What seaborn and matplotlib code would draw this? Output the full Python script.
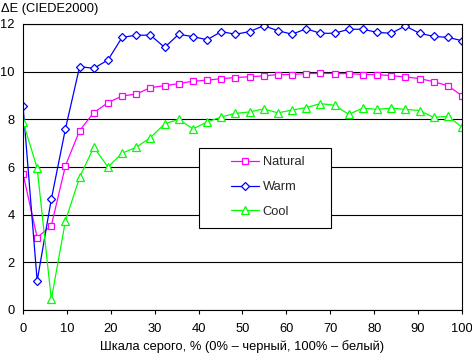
import numpy as np
import matplotlib
matplotlib.use("Agg")
import matplotlib.pyplot as plt
from matplotlib.patches import Rectangle
import pandas as pd
import seaborn as sns

# %% data
gray_pct = np.arange(32) * 100 / 31

natural = [5.72, 3.04, 3.54, 6.06, 7.53, 8.28, 8.70, 8.98, 9.06, 9.33,
           9.41, 9.50, 9.60, 9.64, 9.71, 9.75, 9.79, 9.82, 9.88, 9.88,
           9.92, 9.93, 9.92, 9.92, 9.88, 9.88, 9.83, 9.78, 9.71, 9.58,
           9.41, 8.99]
warm = [8.58, 1.22, 4.65, 7.61, 10.21, 10.14, 10.49, 11.44, 11.53, 11.53,
        11.02, 11.57, 11.47, 11.34, 11.68, 11.57, 11.68, 11.93, 11.72, 11.57,
        11.80, 11.61, 11.61, 11.78, 11.78, 11.65, 11.61, 11.92, 11.61, 11.48,
        11.44, 11.30]
cool = [7.90, 5.95, 0.45, 3.75, 5.57, 6.83, 6.00, 6.58, 6.83, 7.23,
        7.81, 8.00, 7.60, 7.89, 8.10, 8.25, 8.31, 8.44, 8.27, 8.39,
        8.49, 8.66, 8.59, 8.21, 8.47, 8.42, 8.47, 8.42, 8.37, 8.08,
        8.13, 7.67]

series_names = ["Natural", "Warm", "Cool"]
series_colors = ["#FF00FF", "#0000FF", "#00FF00"]
series_markers = ["s", "D", "^"]
series_msize = [5, 4.1, 5.4]

df = pd.DataFrame({"x": gray_pct, "Natural": natural, "Warm": warm, "Cool": cool})

# %% style
FS = 9.3
sns.set_theme(style="white")
plt.rcParams["font.family"] = ["Liberation Sans", "DejaVu Sans"]
plt.rcParams["font.size"] = FS

fig = plt.figure(figsize=(4.72, 3.53), dpi=100)
ax = fig.add_axes([23 / 472, 1 - 310 / 353, 439 / 472, 286 / 353])

handles = []
for name, color, mk, ms in zip(series_names, series_colors, series_markers, series_msize):
    sns.lineplot(data=df, x="x", y=name, ax=ax, color=color, linewidth=0.9,
                 marker=mk, markersize=ms, markerfacecolor="white",
                 markeredgecolor=color, markeredgewidth=0.9)
    handles.append(ax.get_lines()[-1])

ax.set_xlim(0, 100)
ax.set_ylim(0, 12)
ax.set_xticks(range(0, 101, 10))
ax.set_yticks(range(0, 13, 2))
ax.yaxis.grid(True, color="black", linewidth=0.8)
ax.xaxis.grid(False)
for sp in ax.spines.values():
    sp.set_color("black")
    sp.set_linewidth(0.8)
ax.tick_params(axis="x", bottom=True, length=3, width=0.8, color="black",
               pad=6, labelsize=FS, labelcolor="black")
ax.tick_params(axis="y", left=False, length=0, pad=6, labelsize=FS, labelcolor="black")

ax.set_xlabel("Шкала серого, % (0% – черный, 100% – белый)", fontsize=FS,
              color="black", labelpad=4)
ax.set_ylabel("")
fig.text(1 / 472, 1 - 3 / 353, "ΔE (CIEDE2000)", ha="left", va="top",
         fontsize=FS, color="black")

# legend box
box = Rectangle(((199 - 23) / 439, (310 - 228) / 286), 132 / 439, 80 / 286,
                transform=ax.transAxes, facecolor="white", edgecolor="black",
                linewidth=0.8, zorder=4)
ax.add_patch(box)
leg = ax.legend(handles, series_names, loc="center left",
                bbox_to_anchor=((231 - 23) / 439, (310 - 187) / 286),
                frameon=False, borderpad=0, borderaxespad=0,
                handlelength=2.15, handletextpad=0.3, labelspacing=1.0,
                fontsize=FS)
leg.set_zorder(5)

fig.savefig("out.png", dpi=100)
